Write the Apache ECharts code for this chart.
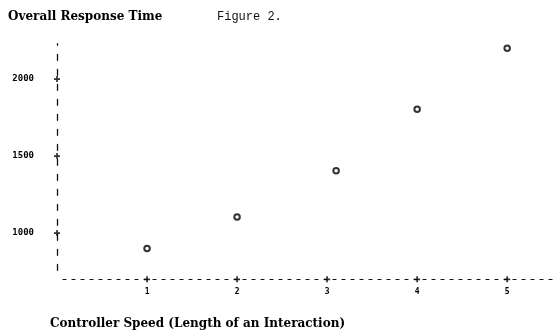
<!DOCTYPE html>
<html>
<head>
<meta charset="utf-8">
<script src="https://cdn.jsdelivr.net/npm/echarts@6/dist/echarts.min.js"></script>
<style>html,body{margin:0;padding:0;background:#fff;}#c{width:554px;height:331px;}</style>
</head>
<body>
<div id="c"></div>
<script>
const speeds = [1, 2, 3.1, 4, 5];
const responseTimes = [900, 1105, 1405, 1805, 2200];
const xTicks = [1, 2, 3, 4, 5];
const yTicks = [1000, 1500, 2000];
const yMin = 700, yMax = 2230, xMin = 0, xMax = 5.52;

const cross = 'path://M2,0h1.6v5.6h-1.6zM0,2h5.6v1.6h-5.6z';
const chart = echarts.init(document.getElementById('c'), null, {renderer: 'canvas'});
chart.setOption({
  animation: false,
  backgroundColor: '#fff',
  title: [
    {text: 'Overall Response Time', left: 3, top: 6,
     textStyle: {fontFamily: 'DejaVu Serif', fontWeight: 'bold', fontSize: 12, color: '#000'}},
    {text: 'Figure 2.', left: 212, top: 6,
     textStyle: {fontFamily: 'Liberation Mono', fontWeight: 'normal', fontSize: 12, color: '#111'}},
    {text: 'Controller Speed (Length of an Interaction)', left: 45, top: 313,
     textStyle: {fontFamily: 'DejaVu Serif', fontWeight: 'bold', fontSize: 12, color: '#000'}}
  ],
  grid: {left: 57, right: 0, top: 43.7, bottom: 51.7, containLabel: false},
  xAxis: {
    type: 'value', min: xMin, max: xMax,
    splitLine: {show: false},
    axisTick: {show: false},
    axisLine: {show: true, onZero: false, lineStyle: {color: '#111', width: 1.2, type: [3, 6], dashOffset: 3}},
    axisLabel: {customValues: xTicks, margin: 9, fontFamily: 'DejaVu Sans Mono', fontWeight: 'bold', fontSize: 8, color: '#000',
      formatter: v => String(v)}
  },
  yAxis: {
    type: 'value', min: yMin, max: yMax,
    splitLine: {show: false},
    axisTick: {show: false},
    axisLine: {show: true, onZero: false, lineStyle: {color: '#111', width: 1.3, type: [6, 9], dashOffset: 6}},
    axisLabel: {customValues: yTicks, margin: 23, fontFamily: 'DejaVu Sans Mono', fontWeight: 'bold', fontSize: 9, color: '#000',
      formatter: v => String(v)}
  },
  series: [
    {type: 'scatter', clip: false, symbol: cross, symbolSize: 6, itemStyle: {color: '#000'},
     data: yTicks.map(v => [xMin, v]).concat(xTicks.map(v => [v, yMin])), silent: true},
    {type: 'scatter', clip: false, symbol: 'circle', symbolSize: 5.5,
     itemStyle: {color: '#fff', borderColor: '#000', borderWidth: 2},
     data: speeds.map((s, i) => [s, responseTimes[i]])}
  ]
});
</script>
</body>
</html>
